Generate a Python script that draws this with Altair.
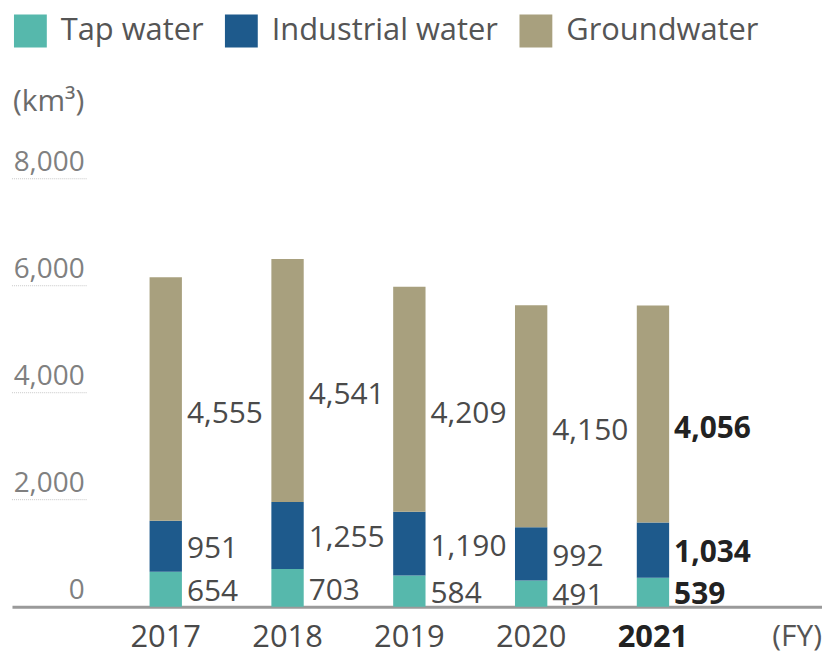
import altair as alt
import pandas as pd

years = ["2017", "2018", "2019", "2020", "2021"]
tap = [654, 703, 584, 491, 539]
industrial = [951, 1255, 1190, 992, 1034]
ground = [4555, 4541, 4209, 4150, 4056]
series = ["Tap water", "Industrial water", "Groundwater"]
colors = ["#56b8ac", "#1e5a8c", "#a8a07e"]
y_ticks = [0, 2000, 4000, 6000, 8000]
highlight_year = "2021"

FONT = "Open Sans"

rows = []
for i, yr in enumerate(years):
    base = 0
    for k, (s, vals) in enumerate(zip(series, [tap, industrial, ground])):
        v = vals[i]
        rows.append(dict(year=yr, series=s, k=k, value=v, y0=base, y1=base + v, mid=base + v / 2))
        base += v
df = pd.DataFrame(rows)
ticks_df = pd.DataFrame({"t": y_ticks})

W, H = 814, 430
BAR_W = 32.5

x_scale = alt.Scale(domain=years, paddingInner=0, paddingOuter=0.825, align=0.462)
y_scale = alt.Scale(domain=[0, 8000], nice=False)

x_axis = alt.Axis(
    title=None, labelAngle=0, ticks=False, grid=False,
    domain=True, domainColor="#9a9a9a", domainWidth=3,
    labelFontSize=31, labelFont=FONT, labelPadding=16,
    labelColor=alt.condition("datum.value == '2021'", alt.value("#222222"), alt.value("#4a4a4a")),
    labelFontWeight=alt.condition("datum.value == '2021'", alt.value("bold"), alt.value("normal")),
)

bars = alt.Chart(df).mark_bar(size=BAR_W).encode(
    x=alt.X("year:N", scale=x_scale, axis=x_axis),
    y=alt.Y("y0:Q", scale=y_scale, axis=None),
    y2="y1:Q",
    color=alt.Color(
        "series:N",
        scale=alt.Scale(domain=series, range=colors),
        legend=alt.Legend(
            title=None, orient="none", legendX=2, legendY=-165, direction="horizontal",
            symbolType="square", symbolSize=1089, symbolStrokeWidth=0, symbolOpacity=1,
            labelFontSize=31, labelFont=FONT, labelColor="#555555", labelOffset=14,
            columnPadding=21, labelLimit=400,
        ),
    ),
)


def labels(is_hl, is_ground, dy):
    d = df[(df["year"] == highlight_year) == is_hl]
    d = d[(d["series"] == "Groundwater") == is_ground]
    return alt.Chart(d).mark_text(
        align="left", baseline="middle", dx=BAR_W / 2 + 5, dy=dy, fontSize=30, font=FONT,
        fontWeight="bold" if is_hl else "normal",
        color="#222222" if is_hl else "#4a4a4a",
    ).encode(
        x=alt.X("year:N", scale=x_scale),
        y=alt.Y("mid:Q", scale=y_scale, axis=None),
        text=alt.Text("value:Q", format=","),
    )


grid = alt.Chart(ticks_df[ticks_df["t"] > 0]).mark_rule(
    color="#c8c8c8", strokeWidth=1, strokeDash=[1, 1]
).encode(x=alt.value(0), x2=alt.value(76), y=alt.Y("t:Q", scale=y_scale, axis=None))

ytext = alt.Chart(ticks_df).mark_text(
    align="right", baseline="alphabetic", dy=-8, fontSize=28, font=FONT, color="#808080"
).encode(x=alt.value(73), y=alt.Y("t:Q", scale=y_scale, axis=None), text=alt.Text("t:Q", format=","))

unit = alt.Chart(pd.DataFrame({"u": ["(km³)"]})).mark_text(
    align="left", baseline="middle", fontSize=30, font=FONT, color="#6a6a6a"
).encode(x=alt.value(1), y=alt.value(-77), text="u:N")

fy = alt.Chart(pd.DataFrame({"u": ["(FY)"]})).mark_text(
    align="right", baseline="middle", fontSize=30, font=FONT, color="#555555"
).encode(x=alt.value(814), y=alt.value(461), text="u:N")

chart = alt.layer(
    grid, ytext, bars,
    labels(False, False, 3), labels(False, True, 15),
    labels(True, False, 3), labels(True, True, 15),
    unit, fy,
).properties(
    width=W, height=H,
    autosize=alt.AutoSizeParams(type="none"),
    padding={"left": 4, "top": 170, "right": 0, "bottom": 50},
).configure_view(stroke=None)

chart.save("out.html", embed_options={"renderer": "svg", "actions": False})
